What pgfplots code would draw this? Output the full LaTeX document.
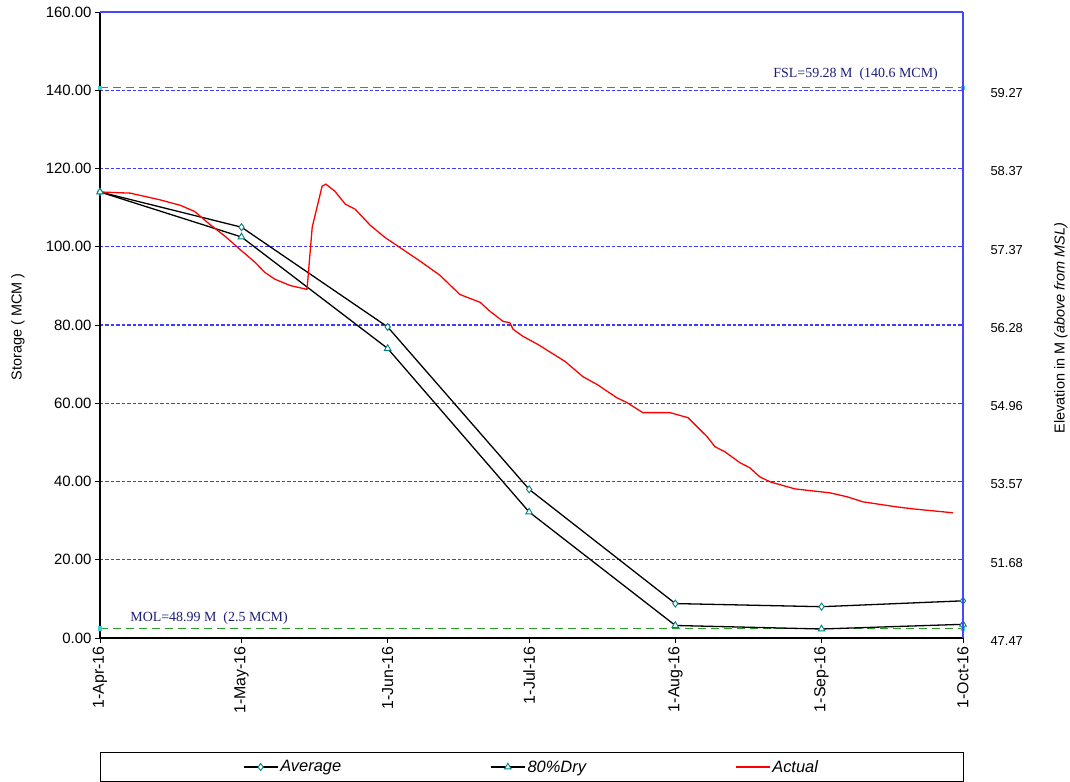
\documentclass[border=0pt]{standalone}
\usepackage{pgfplots}
\pgfplotsset{compat=1.18}
\usepackage{fontspec}
\setmainfont{Liberation Sans}
\newfontfamily\seriffont{Liberation Serif}
\definecolor{gridblue}{RGB}{60,60,255}
\definecolor{axblue}{RGB}{70,70,255}
\definecolor{markteal}{RGB}{0,128,128}
\definecolor{lvlgreen}{RGB}{40,160,40}
\definecolor{lvlcyan}{RGB}{60,210,210}
\definecolor{navy}{RGB}{30,30,120}
\begin{document}
\begin{tikzpicture}
\begin{axis}[
  name=main,
  scale only axis, width=863bp, height=626bp,
  xmin=0, xmax=183, ymin=0, ymax=160,
  axis x line*=bottom, axis y line*=left,
  axis line style={black, line width=1.6bp},
  xtick={0,30,61,91,122,153,183},
  xticklabels={1-Apr-16,1-May-16,1-Jun-16,1-Jul-16,1-Aug-16,1-Sep-16,1-Oct-16},
  xticklabel style={rotate=90, anchor=east, font=\fontsize{16}{18}\selectfont},
  ytick={0,20,...,160},
  yticklabel style={font=\fontsize{15}{17}\selectfont, /pgf/number format/.cd, fixed, fixed zerofill, precision=2, assume math mode=true},
  tick align=outside, major tick length=5bp,
  major tick style={black, line width=0.8bp},
  ymajorgrids,
  major grid style={draw=gridblue, dash pattern=on 3.5bp off 2bp, line width=1.4bp},
  every axis y label/.style={at={(axis description cs:-0.095,0.497)}, rotate=90, anchor=center},
  ylabel={Storage ( MCM )},
  ylabel style={font=\fontsize{14.5}{16}\selectfont},
  legend style={at={(0.5,-0.182)}, anchor=north, draw=black, line width=0.8bp,
    font=\itshape\fontsize{16.5}{18}\selectfont, inner xsep=143bp, inner ysep=6bp},
  legend columns=3,
  /tikz/every even column/.append style={column sep=147bp},
  legend image code/.code={\draw[mark repeat=2,mark phase=2] plot coordinates {(0bp,0bp)(17bp,0bp)(34bp,0bp)};},
]
\addplot[lvlgreen, dash pattern=on 8bp off 5bp, line width=1bp, mark=square*, mark size=1.8bp, mark options={solid, draw=lvlcyan, fill=lvlcyan}, forget plot]
  coordinates {(0,140.6) (183,140.6)};
\addplot[lvlgreen, dash pattern=on 8bp off 5bp, line width=1bp, mark=square*, mark size=1.8bp, mark options={solid, draw=lvlcyan, fill=lvlcyan}, forget plot]
  coordinates {(0,2.5) (183,2.5)};
\addplot[draw=black, line width=1.3bp, mark=diamond*, mark size=3.5bp, mark options={draw=markteal, fill=white, line width=0.9bp}]
  coordinates {(0,114) (30,105) (61,79.5) (91,38) (122,8.8) (153,8.0) (183,9.5)};
\addlegendentry{Average}
\addplot[draw=black, line width=1.3bp, mark=triangle*, mark size=3.8bp, mark options={draw=markteal, fill=white, line width=0.9bp}]
  coordinates {(0,114) (30,102.5) (61,74) (91,32.2) (122,3.2) (153,2.3) (183,3.5)};
\addlegendentry{80\%Dry}
\addplot[draw=red, line width=1.3bp] coordinates {
(0,114) (6.4,113.7) (12.7,112) (17,110.6) (20.1,109) (23.3,105.7) (26.5,102.7)
(29.7,99.3) (32.9,96) (35,93.4) (37.1,91.7) (40.3,90.1) (43.9,89.1) (45,105)
(47.1,115.5) (47.9,116) (49.8,114.2) (52,110.9) (54.1,109.6) (57.3,105.5)
(60.4,102.4) (63.6,99.8) (67.9,96.3) (72.1,92.7) (76.3,87.8) (80.6,85.8)
(82.7,83.5) (85.5,80.9) (86.9,80.6) (87.6,78.9) (89.7,77.1) (92.9,75)
(98.6,70.7) (102.4,66.8) (105.4,64.8) (109.6,61.4) (111.7,60.2) (115.1,57.6)
(120.9,57.6) (124.7,56.3) (128.7,51.5) (130.4,48.9) (132.5,47.6) (135.7,44.8)
(137.8,43.5) (139.9,41.2) (142.1,39.9) (147.4,38.1) (154.8,37.1) (158.4,36.1)
(161.8,34.8) (169,33.5) (172.4,33) (180.9,32)};
\addlegendentry{Actual}
\node[anchor=east, inner sep=0pt, font=\seriffont\fontsize{14}{16}\selectfont, text=navy] at (axis cs:177.7,144.1) {FSL=59.28 M\ \ (140.6 MCM)};
\node[anchor=west, inner sep=0pt, font=\seriffont\fontsize{14}{16}\selectfont, text=navy] at (axis cs:6.4,5.2) {MOL=48.99 M\ \ (2.5 MCM)};
\end{axis}
\begin{axis}[
  scale only axis, width=863bp, height=626bp,
  xmin=0, xmax=183, ymin=0, ymax=160,
  axis x line*=top, axis y line*=right,
  axis line style={axblue, line width=1.3bp},
  xtick=\empty,
  ytick={0,20,40,60,80,100,120,140},
  yticklabels={47.47,51.68,53.57,54.96,56.28,57.37,58.37,59.27},
  major tick length=0pt,
  yticklabel style={font=\fontsize{13}{15}\selectfont, xshift=24bp, yshift=-3bp},
  every axis y label/.style={at={(axis description cs:1.1135,0.495)}, rotate=90, anchor=center},
  ylabel={Elevation in M \textit{(above from MSL)}},
  ylabel style={font=\fontsize{14.5}{16}\selectfont},
]
\end{axis}
\pgfresetboundingbox
\path ([shift={(-100bp,-144bp)}]main.south west) rectangle ([shift={(107bp,12bp)}]main.north east);
\end{tikzpicture}
\end{document}
